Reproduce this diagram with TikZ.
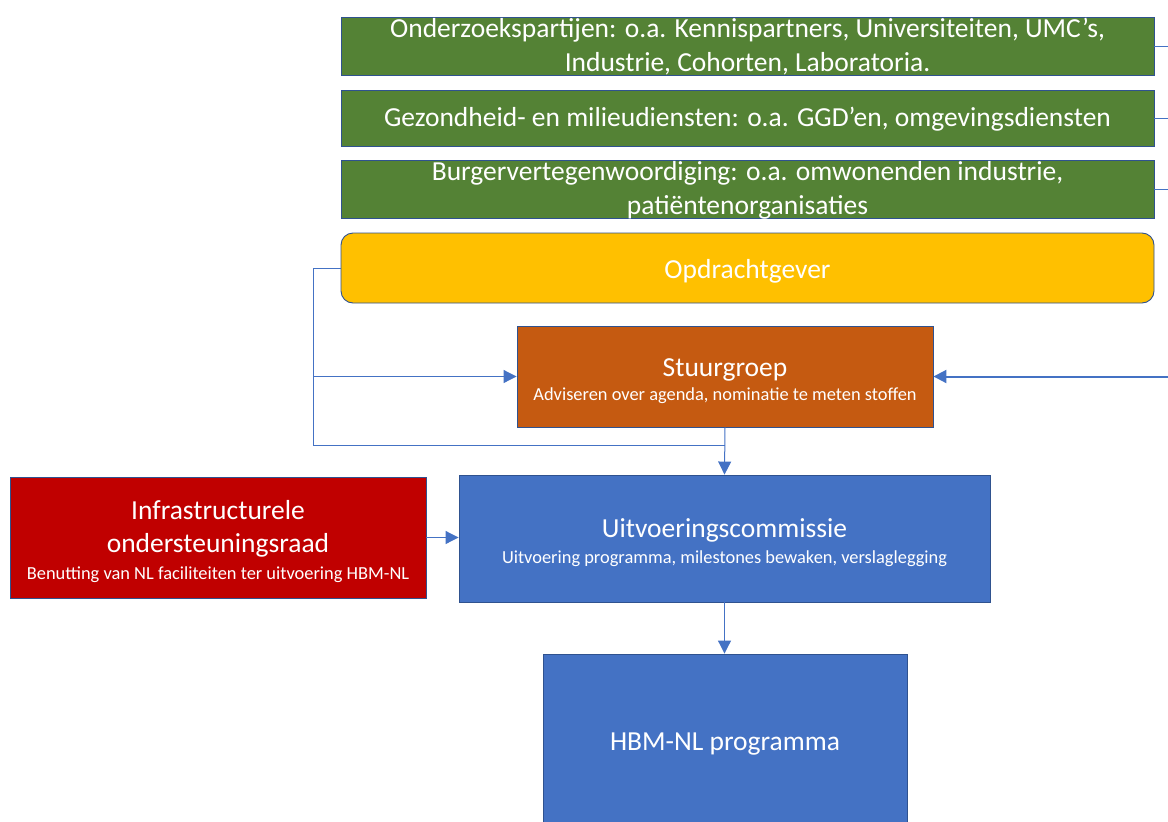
\documentclass[tikz,border=0pt]{standalone}
\usepackage{fontspec}
\setmainfont{Carlito}
\usetikzlibrary{arrows.meta}
\definecolor{bordc}{HTML}{2F528F}
\definecolor{linec}{HTML}{4472C4}
\definecolor{greenc}{HTML}{548235}
\definecolor{yellowc}{HTML}{FFC000}
\definecolor{orangec}{HTML}{C55A11}
\definecolor{bluec}{HTML}{4472C4}
\definecolor{redc}{HTML}{C00000}
\newcommand{\bigf}{\fontsize{27.5}{34}\selectfont}
\begin{document}
\begin{tikzpicture}[x=1pt,y=-1pt,
  box/.style={draw=bordc, line width=0.9pt, inner sep=0pt, anchor=center},
  txt/.style={text=white, align=center, inner sep=0pt, anchor=center},
  big/.style={font=\fontsize{27.5}{34}\selectfont},
  duo/.style={font=\fontsize{18.4}{#1}\selectfont},
  conn/.style={draw=linec, line width=1pt},
  arr/.style={conn, -{Triangle[length=13pt,width=13pt]}},
]
\useasboundingbox (0,0) rectangle (1168,822);
\coordinate (redge) at (1168,0);
\coordinate (lx) at (313,0);

% boxes
\node[box, fill=greenc, minimum width=813pt, minimum height=58pt] (g1) at (747.5,46) {};
\node[box, fill=greenc, minimum width=813pt, minimum height=56pt] (g2) at (747.5,118) {};
\node[box, fill=greenc, minimum width=813pt, minimum height=58pt] (g3) at (747.5,189) {};
\node[box, fill=yellowc, rounded corners=12pt, minimum width=813pt, minimum height=70pt] (opd) at (747.5,268) {};
\node[box, fill=orangec, minimum width=416pt, minimum height=101pt] (stuur) at (725,376.5) {};
\node[box, fill=bluec, minimum width=531pt, minimum height=127pt] (uit) at (724.5,538.5) {};
\node[box, fill=redc, minimum width=416pt, minimum height=121pt] (infra) at (218,537.5) {};
\node[box, fill=bluec, minimum width=364pt, minimum height=176pt] (hbm) at (725,742) {};

% texts
\node[txt, big] (g1t) at ([yshift=-0.5pt]g1.center)
  {Onderzoekspartijen: o.a. Kennispartners, Universiteiten, UMC’s,\\Industrie, Cohorten, Laboratoria.};
\node[txt, big] (g2t) at ([yshift=-1pt]g2.center)
  {Gezondheid- en milieudiensten: o.a. GGD’en, omgevingsdiensten};
\node[txt, big] (g3t) at ([yshift=-1pt]g3.center)
  {Burgervertegenwoordiging: o.a. omwonenden industrie,\\patiëntenorganisaties};
\node[txt, big] (opdt) at ([yshift=-3pt]opd.center) {Opdrachtgever};
\node[txt, duo=24] (stuurt) at ([yshift=-5pt]stuur.center)
  {\bigf Stuurgroep\\Adviseren over agenda, nominatie te meten stoffen};
\node[txt, duo=26] (uitt) at ([yshift=-4.5pt]uit.center)
  {\bigf Uitvoeringscommissie\\Uitvoering programma, milestones bewaken, verslaglegging};
\node[txt, duo=27] (infrat) at ([yshift=-4pt]infra.center)
  {\bigf Infrastructurele\\[6pt]\bigf ondersteuningsraad\\Benutting van NL faciliteiten ter uitvoering HBM-NL};
\node[txt, big] (hbmt) at ([yshift=-2pt]hbm.center) {HBM-NL programma};

% right side connectors
\draw[conn] (g1.east) -- (g1.east -| redge);
\draw[conn] (g2.east) -- (g2.east -| redge);
\draw[conn] (g3.east) -- (g3.east -| redge);
\draw[arr, line width=2pt] (stuur.east -| redge) -- (stuur.east);

% left loop
\coordinate (join) at (725,445);
\draw[arr] (opd.west) -- (opd.west -| lx) |- (stuur.west);
\draw[conn] (opd.west -| lx) |- (join);
\draw[arr] (stuur.south) -- (uit.north);
\draw[arr] (infra.east) -- (infra.east -| uit.west);
\draw[arr] (uit.south) -- (uit.south |- hbm.north);
\end{tikzpicture}
\end{document}
